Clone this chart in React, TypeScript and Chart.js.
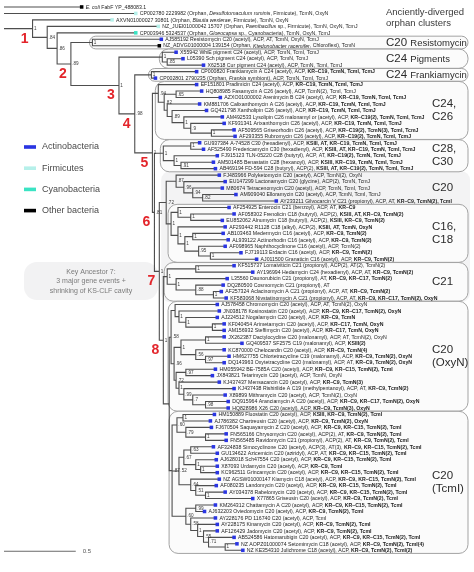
import React, { useEffect, useRef } from 'react';
import { Chart, registerables } from 'chart.js';

Chart.register(...registerables);

const WIDTH = 474;
const HEIGHT = 572;
const ROW_PX = 6.56;
const TOP_PX = 3;
const PX_PER_UNIT = 146;
const FONT = '"Liberation Sans", Arial, sans-serif';

// ---------------- data ----------------
const LEAF_LABELS: string[] = [
  '*E. coli* FabF YP_488083.1',
  'CP002780 2229982 (Orphan, *Desulfotomaculum ruminis*, Firmicute), TcmN, OxyN',
  'AXVN01000027 30801 (Orphan, *Blautia wexlerae*, Firmicute), TcmN, OxyN',
  'NZ_JUEI01000042 15707 (Orphan, *Paenibacillus* sp., Firmicute), TcmN, OxyN, TcmJ',
  'CP003946 5324537 (Orphan, *Gloeocapsa* sp., Cyanobacteria), TcmN, OxyN, TcmJ',
  'AJ585192 Resistomycin C20 (acetyl), ACP, AT, TcmN, OxyN, TcmJ',
  'NZ_ADVG01000004 139154 (Orphan, *Ktedonobacter racemifer*, Chloroflexi), TcmN',
  'X55942 WhiE pigment C24 (acetyl), ACP, TcmN, TcmI, TcmJ',
  'L05390 Sch pigment C24 (acetyl), ACP, TcmN, TcmJ',
  'X62518 Cur pigment C24 (acetyl), ACP, TcmN, TcmI, TcmJ',
  'CP000820 Frankiamycin A C24 (acetyl), ACP, KR–C19, TcmN, TcmI, TcmJ',
  'CP002801 2790235 (Orphan, *Frankia* symbiont), ACP, TcmN, TcmI, TcmJ',
  'EF151801 Pradimicin C24 (acetyl), ACP, KR–C19, TcmN, TcmI, TcmJ',
  'HQ808985 Fasamycin A C26 (acetyl), ACP, TcmN(2), TcmI, TcmJ',
  'AZXO01000002 Arenimycin B C24 (acetyl), ACP, KR–C19, TcmN, TcmI, TcmJ',
  'KM881706 Calixanthomycin A C26 (acetyl), ACP, KR–C19, TcmN, TcmI, TcmJ',
  'GQ421798 Xantholipin C26 (acetyl), ACP, KR–C19, TcmN, TcmI, TcmJ',
  'AM492533 Lysolipin C26 malonamyl or (acetyl), ACP, KR–C19(2), TcmN, TcmI, TcmJ',
  'KF931341 Arixanthomycin C26 (acetyl), ACP, KR–C19, TcmN, TcmI, TcmJ',
  'AF509565 Griseorhodin C26 (acetyl), ACP, KR–C19(2), TcmN(3), TcmI, TcmJ',
  'AF293355 Rubromycin C26 (acetyl), ACP, KR–C19(2), TcmN, TcmI, TcmJ',
  'GU937384 A-74528 C30 (hexadienyl), ACP, KSIII, AT, KR–C19, TcmN, TcmI, TcmJ',
  'AF525490 Fredericamycin C30 (hexadienyl), ACP, KSIII, AT, KR–C19, TcmN, TcmI, TcmJ',
  'FJ915123 TLN-05220 C28 (butyryl), ACP, AT, KR–C19(2), TcmN, TcmI, TcmJ',
  'AM501485 Benastatin C28 (hexanoyl), ACP, KSIII, KR–C19, TcmN, TcmI, TcmJ',
  'AB469194 FD-594 C28 (butyryl), ACP(2), KSIII, AT, KR–C19(2), TcmN, TcmI, TcmJ',
  'FJ483966 Polyketomycin C20 (acetyl), ACP, TcmN(2), OxyN',
  'EU147299 Lactonamycin C20 (glycine), ACP(2), TcmN, TcmJ',
  'M80674 Tetracenomycin C20 (acetyl), ACP, TcmN, TcmI, TcmJ',
  'AM909040 Elloramycin C20 (acetyl), ACP, TcmN, TcmI, TcmJ',
  'AY233211 Gilvocarcin V C21 (propionyl), ACP, AT, KR–C9, TcmN(2), TcmI',
  'AF254925 Enterocin C21 (benzoyl), ACP, AT, KR–C9',
  'AF058302 Frenolicin C18 (butyryl), ACP(2), KSIII, AT, KR–C9, TcmN(2)',
  'EU852062 Alnumycin C18 (butyryl), ACP(2), KSIII, KR–C9, TcmN(2)',
  'AF293442 R1128 C18 (alkyl), ACP(2), KSIII, AT, TcmN, OxyN',
  'AB103463 Medermycin C16 (acetyl), ACP, KR–C9, TcmN(2)',
  'AL939122 Actinorhodin C16 (acetyl), ACP, KR–C9, TcmN(2)',
  'AF098965 Naphthocyclinone C16 (acetyl), ACP, TcmN(2)',
  'FJ719113 Erdacin C16 (acetyl), ACP, KR–C9, TcmN(2)',
  'AJ011500 Granaticin C16 (acetyl), ACP, KR–C9, TcmN(2)',
  'KF515737 Lomaiviticin C21 (propionyl), ACP(2), AT(2), TcmN(2)',
  'AY196994 Hedamycin C24 (hexadienyl), ACP, AT, KR–C9, TcmN(2)',
  'L35560 Daunorubicin C21 (propionyl), AT, KR–C9, KR–C17, TcmN(2)',
  'DQ280500 Cosmomycin C21 (propionyl), AT',
  'AF257324 Aclacinomycin A C21 (propionyl), ACP, AT, KR–C9, TcmN(2)',
  'KF583068 Nivstatinomycin A C21 (propionyl), ACP, AT, KR–C9, KR–C17, TcmN(2), OxyN',
  'AJ578458 Chromomycin C20 (acetyl), ACP, AT, TcmN(2), OxyN',
  'JN038178 Kosinostatin C20 (acetyl), ACP, KR–C9, KR–C17, TcmN(2), OxyN',
  'AJ224512 Nogalamycin C20 (acetyl), ACP, KR–C9, TcmN',
  'KF040454 Arimetamycin C20 (acetyl), ACP, KR–C17, TcmN, OxyN',
  'AM156932 Steffimycin C20 (acetyl), ACP, KR–C17, TcmN, OxyN',
  'JX262387 Dactylocycline C20 (malonamyl), ACP, AT, TcmN(2), OxyN',
  'GQ409537 SF2575 C19 (malonamyl), ACP, KSIII(2)',
  'KC870000 Chelocardin C20 (acetyl), ACP, KR–C9, TcmN(4)',
  'HM627755 Chlortetracycline C19 (malonamyl), ACP, KR–C9, TcmN(2), OxyN',
  'DQ143963 Oxytetracycline C20 (malonamyl), ACP, AT, KR–C9, TcmN(2), OxyN',
  'HM055942 BE-7585A C20 (acetyl), ACP, KR–C9, KR–C15, TcmN(2), TcmI',
  'JX843821 Tetarimycin C20 (acetyl), ACP, TcmN, OxyN',
  'KJ437437 Mensacarcin C20 (acetyl), ACP, KR–C9, TcmN(3)',
  'KJ437438 Rishirilide A C19 (methylpentanoyl), ACP, AT, KR–C9, TcmN(2)',
  'X89899 Mithramycin C20 (acetyl), ACP, TcmN(2), OxyN',
  'DQ915964 Aranciamycin A C20 (acetyl), ACP, KR–C9, KR–C17, TcmN(2), OxyN',
  'HQ828986 X26 C20 (acetyl), ACP, KR–C9, TcmN(3), OxyN',
  'HM150889 Fluostatin C20 (acetyl), ACP, KSIII, KR–C9, TcmN(2), TcmI',
  'AJ786382 Chartreusin C20 (acetyl), ACP, KR–C9, TcmN(2), OxyN',
  'FJ670504 Saquayamycin Z C20 (acetyl), ACP, KR–C9, KR–C15, TcmN(2), TcmI',
  'FN565166 Chrysomycin C20 (acetyl), ACP(2), AT, KR–C9, TcmN(2), TcmI',
  'FN565485 Ravidomycin C21 (propionyl), ACP(2), AT, KR–C9, TcmN(2), TcmI',
  'AF324838 Simocyclinone C20 (acetyl), ACP(3), AT(3), KR–C9, KR–C15, TcmN(2), TcmI',
  'GU134622 Azicemicin C20 (aziridyl), ACP, AT, KR–C9, KR–C15, TcmN(2), TcmI',
  'AJ628018 Sch47554 C20 (acetyl), ACP, KR–C9, KR–C15, TcmN(2), TcmI',
  'X87093 Urdamycin C20 (acetyl), ACP, KR–C9, TcmI',
  'KC962511 Grincamycin C20 (acetyl), ACP, KR–C9, KR–C15, TcmN(2), TcmI',
  'NZ AGSW01000147 Kiamycin C18 (acetyl), ACP, KR–C9, KR–C15, TcmN(2), TcmI',
  'AF080235 Landomycin C20 (acetyl), ACP, KR–C9, KR–C15, TcmN(2), TcmI',
  'AY034378 Rabelomycin C20 (acetyl), ACP, KR–C9, KR–C15, TcmN(2), TcmI',
  'X77865 Griseusin C20 (acetyl), ACP, KR–C9, TcmN(2), TcmI',
  'KM264312 Chattamycin A C20 (acetyl), ACP, KR–C9, KR–C15, TcmN(2), TcmI',
  'AJ632203 Oviedomycin C20 (acetyl), ACP, KR–C9, TcmN(2), TcmI',
  'AY228176 PD 116740 C20 (acetyl), ACP, TcmI',
  'AY228175 Kinamycin C20 (acetyl), ACP, KR–C9, TcmN(2), TcmI',
  'AF126429 Jadomycin C20 (acetyl), ACP, KR–C9, TcmN(2), TcmI',
  'AB524586 Hatomarubigin C20 (acetyl), ACP, KR–C9, KR–C15, TcmN(2), TcmI',
  'NZ AOPZ01000074 Setomimycin C18 (acetyl), ACP, KR–C9, TcmN(2), TcmI(4)',
  'NZ KE354310 Julichrome C18 (acetyl), ACP, KR–C9, TcmN(2), TcmI(2)',
];

const LEAF_TAXA: string[] = [
  'O', 'F', 'F', 'F', 'C', 'A', 'O', 'A', 'A', 'A',
  'A', 'A', 'A', 'A', 'A', 'A', 'A', 'A', 'A', 'A',
  'A', 'A', 'A', 'A', 'A', 'A', 'A', 'A', 'A', 'A',
  'A', 'A', 'A', 'A', 'A', 'A', 'A', 'A', 'A', 'A',
  'A', 'A', 'A', 'A', 'A', 'A', 'A', 'A', 'A', 'A',
  'A', 'A', 'A', 'A', 'A', 'A', 'A', 'A', 'A', 'A',
  'A', 'A', 'A', 'A', 'A', 'A', 'A', 'A', 'A', 'A',
  'A', 'A', 'A', 'A', 'A', 'A', 'A', 'A', 'A', 'A',
  'A', 'A', 'A', 'A', 'A',
];

// distance from root (substitutions per site)
const LEAF_DEPTHS: number[] = [
  0.541, 0.918, 0.753, 1.075, 0.918, 1.096, 1.082, 1.199, 1.247, 1.390,
  1.342, 1.055, 1.342, 1.377, 1.507, 1.363, 1.411, 1.521, 1.534, 1.603,
  1.610, 1.363, 1.390, 1.486, 1.459, 1.473, 1.500, 1.541, 1.521, 1.616,
  1.897, 1.568, 1.603, 1.521, 1.541, 1.527, 1.562, 1.541, 1.651, 1.760,
  1.603, 1.733, 1.555, 1.527, 1.514, 1.548, 1.486, 1.500, 1.486, 1.534,
  1.534, 1.534, 1.658, 1.534, 1.568, 1.534, 1.473, 1.452, 1.500, 1.603,
  1.541, 1.562, 1.562, 1.466, 1.438, 1.445, 1.548, 1.548, 1.459, 1.486,
  1.479, 1.486, 1.486, 1.500, 1.479, 1.541, 1.733, 1.473, 1.397, 1.473,
  1.486, 1.486, 1.603, 1.623, 1.664,
];

// [id, depth, support, children (node ids or leaf indices)]
const INTERNAL_NODES: [string, number, string, (string | number)[]][] = [
  ['ROOT', -0.021, '', [0, 1, 'N1']],
  ['N1', 0.199, '1', [2, 'N84']],
  ['N84', 0.301, '.84', [3, 'N86']],
  ['N86', 0.370, '.86', [4, 'N89']],
  ['N89', 0.466, '.89', ['NRES', 'N3']],
  ['NRES', 0.616, '1', [5, 6]],
  ['N3', 0.801, '1', ['NPIG', 'N4']],
  ['NPIG', 1.103, '1', [7, 'NPIG2']],
  ['NPIG2', 1.137, '.85', [8, 9]],
  ['N4', 0.911, '.98', ['NFRANK', 'N5']],
  ['NFRANK', 1.027, '1', [10, 11]],
  ['N5', 1.034, '1', ['A', 'N6']],
  ['A', 1.075, '.94', [12, 'B']],
  ['B', 1.116, '.82', ['C', 'E']],
  ['C', 1.199, '.65', [13, 14]],
  ['E', 1.137, '', [15, 'F']],
  ['F', 1.171, '.89', [16, 'G']],
  ['G', 1.253, '1', [17, 'H']],
  ['H', 1.301, '.9', [18, 'I']],
  ['I', 1.445, '1', [19, 20]],
  ['N6', 1.048, '.81', ['J', 'N7']],
  ['J', 1.110, '1', ['K', 'L']],
  ['K', 1.301, '1', [21, 22]],
  ['L', 1.185, '1', [23, 'M']],
  ['M', 1.233, '.91', [24, 25]],
  ['N7', 1.082, '1', ['N72', 'N8']],
  ['N72', 1.130, '.72', ['P', 'X0']],
  ['P', 1.199, '.87', [26, 'Q']],
  ['Q', 1.253, '.96', [27, 'R']],
  ['R', 1.315, '.94', [28, 'S']],
  ['S', 1.384, '.82', [29, 30]],
  ['X0', 1.164, '1', ['X1', 'X2']],
  ['X1', 1.212, '1', [31, 'X3']],
  ['X3', 1.301, '1', [32, 33]],
  ['X2', 1.212, '1', [34, 'X4']],
  ['X4', 1.260, '1', ['X5', 'X6']],
  ['X5', 1.315, '1', [35, 36]],
  ['X6', 1.356, '.95', [37, 'X7']],
  ['X7', 1.438, '1', [38, 39]],
  ['N8', 1.110, '1', ['Y0', 'N9']],
  ['Y0', 1.137, '1', ['Y1', 'Y2']],
  ['Y1', 1.336, '1', [40, 41]],
  ['Y2', 1.199, '1', [42, 'Y3']],
  ['Y3', 1.336, '.88', [43, 'Y4']],
  ['Y4', 1.459, '1', [44, 45]],
  ['N9', 1.151, '', ['O0', 'T0']],
  ['O0', 1.164, '.58', ['O1', 'O2']],
  ['O1', 1.192, '', [46, 'SA']],
  ['SA', 1.219, '1', [47, 'SA2']],
  ['SA2', 1.267, '1', [48, 'SA3']],
  ['SA3', 1.452, '1', [49, 50]],
  ['O2', 1.185, '.96', ['O3', 'O4']],
  ['O3', 1.233, '1', ['O5', 'O6']],
  ['O5', 1.404, '1', [51, 52]],
  ['O6', 1.336, '.56', [53, 'O7']],
  ['O7', 1.404, '.97', [54, 55]],
  ['O4', 1.199, '.72', ['O8', 'O9']],
  ['O8', 1.267, '.97', [56, 57]],
  ['O9', 1.219, '1', [58, 'O10']],
  ['O10', 1.253, '.99', [59, 'O11']],
  ['O11', 1.315, '.7', [60, 'O12']],
  ['O12', 1.404, '.98', [61, 62]],
  ['T0', 1.171, '.87', ['TD', 'TH', 'TO']],
  ['TD', 1.205, '.60', ['TA', 'TB']],
  ['TA', 1.247, '1', [63, 64]],
  ['TB', 1.267, '.79', [65, 'TC']],
  ['TC', 1.404, '1', [66, 67]],
  ['TH', 1.219, '.52', ['TI', 'TN']],
  ['TI', 1.253, '.67', ['TK', 'TL']],
  ['TK', 1.301, '.63', [68, 69]],
  ['TL', 1.336, '1', [70, 'TM']],
  ['TM', 1.370, '1', [71, 72]],
  ['TN', 1.301, '.64', [73, 'TP']],
  ['TP', 1.336, '.51', [74, 'TQ']],
  ['TQ', 1.404, '1', [75, 76]],
  ['TO', 1.267, '.60', ['TR', 'TS']],
  ['TR', 1.336, '.99', [77, 78]],
  ['TS', 1.301, '.58', [79, 'TT']],
  ['TT', 1.349, '1', [80, 'TU']],
  ['TU', 1.390, '.55', [81, 'TV']],
  ['TV', 1.425, '.71', [82, 'TW']],
  ['TW', 1.541, '1', [83, 84]],
];

const KEY_ANCESTORS: [string, string][] = [
  ['N1', '1'], ['N89', '2'], ['N3', '3'], ['N4', '4'],
  ['N5', '5'], ['N6', '6'], ['N7', '7'], ['N8', '8'],
];

const TAXON_CODES = ['A', 'F', 'C', 'O'];
const TAXON_NAMES = ['Actinobacteria', 'Firmicutes', 'Cyanobacteria', 'Other bacteria'];
const TAXON_COLORS = ['#2a35e2', '#b6f0ea', '#3ae3c3', '#000000'];

// clade boxes: [clade node, first leaf, last leaf, big title, small title, two-line title]
const CLADE_BOXES: [string, number, number, string, string, string[]][] = [
  ['NRES', 5, 6, 'C20', 'Resistomycin', []],
  ['NPIG', 7, 9, 'C24', 'Pigments', []],
  ['NFRANK', 10, 11, 'C24', 'Frankiamycin', []],
  ['A', 12, 20, '', '', ['C24,', 'C26']],
  ['J', 21, 25, '', '', ['C28,', 'C30']],
  ['X0', 31, 39, '', '', ['C16,', 'C18']],
  ['Y0', 40, 45, '', '', ['C21']],
  ['O0', 46, 62, '', '', ['C20', '(OxyN)']],
  ['T0', 63, 84, '', '', ['C20', '(TcmI)']],
];
const OPEN_GROUP: [string, number, number, string[]] = ['P', 26, 30, ['C20']];
const SHADED_GROUP: [string, number, number] = ['N72', 26, 45];
const ORPHAN_NOTE = ['Anciently-diverged', 'orphan clusters'];
const KEY_NOTE = ['Key Ancestor 7:', '3 major gene events +', 'shrinking of KS-CLF cavity'];
const SCALE_BAR_LENGTH = 0.5;
const SCALE_BAR_ROW = 84.15;

// ---------------- tree building ----------------
type TNode = { id: string; depth: number; support: string; children: TNode[]; leaf: number; y: number };

function buildTree() {
  const map = new Map<string, TNode>();
  for (const [id, depth, support] of INTERNAL_NODES) {
    map.set(id, { id, depth, support, children: [], leaf: -1, y: 0 });
  }
  for (const [id, , , kids] of INTERNAL_NODES) {
    const n = map.get(id)!;
    for (const k of kids) {
      if (typeof k === 'number') {
        n.children.push({ id: 'L' + k, depth: LEAF_DEPTHS[k], support: '', children: [], leaf: k, y: k });
      } else {
        n.children.push(map.get(k)!);
      }
    }
  }
  const setY = (n: TNode): number => {
    if (n.leaf >= 0) return n.y;
    n.children.forEach(setY);
    n.y = (n.children[0].y + n.children[n.children.length - 1].y) / 2;
    return n.y;
  };
  const root = map.get('ROOT')!;
  setY(root);
  return { root, map };
}

const TREE = buildTree();

function treeSegments() {
  const pts: { x: number | null; y: number | null }[] = [];
  const walk = (n: TNode) => {
    if (n.leaf >= 0) return;
    const first = n.children[0];
    const last = n.children[n.children.length - 1];
    pts.push({ x: first.depth, y: first.y }, { x: n.depth, y: first.y }, { x: n.depth, y: last.y }, { x: last.depth, y: last.y }, { x: null, y: null });
    for (let i = 1; i < n.children.length - 1; i++) {
      const c = n.children[i];
      pts.push({ x: n.depth, y: c.y }, { x: c.depth, y: c.y }, { x: null, y: null });
    }
    n.children.forEach(walk);
  };
  walk(TREE.root);
  return pts;
}

// ---------------- drawing helpers ----------------
function roundRect(ctx: CanvasRenderingContext2D, x: number, y: number, w: number, h: number, r: number) {
  const rr = Math.min(r, h / 2, w / 2);
  ctx.beginPath();
  ctx.moveTo(x + rr, y);
  ctx.arcTo(x + w, y, x + w, y + h, rr);
  ctx.arcTo(x + w, y + h, x, y + h, rr);
  ctx.arcTo(x, y + h, x, y, rr);
  ctx.arcTo(x, y, x + w, y, rr);
  ctx.closePath();
}

function drawRich(ctx: CanvasRenderingContext2D, raw: string, x: number, y: number, size: number) {
  const parts = raw.split('*');
  const plain = parts.join('');
  const m = plain.search(/KR–C|KSIII/);
  const boldFrom = m < 0 ? Infinity : m;
  let offset = 0;
  let cx = x;
  parts.forEach((p, pi) => {
    const italic = pi % 2 === 1;
    const pieces: [string, boolean][] = [];
    if (offset + p.length <= boldFrom) pieces.push([p, false]);
    else if (offset >= boldFrom) pieces.push([p, true]);
    else {
      const k = boldFrom - offset;
      pieces.push([p.slice(0, k), false], [p.slice(k), true]);
    }
    for (const [t, b] of pieces) {
      if (!t) continue;
      ctx.font = `${italic ? 'italic ' : ''}${b ? 'bold ' : ''}${size}px ${FONT}`;
      ctx.fillText(t, cx, y);
      cx += ctx.measureText(t).width;
    }
    offset += p.length;
  });
}

const decorPlugin = {
  id: 'treeDecor',
  beforeDatasetsDraw(chart: any) {
    const ctx: CanvasRenderingContext2D = chart.ctx;
    const xs = chart.scales.x;
    const ys = chart.scales.y;
    const half = ROW_PX / 2 - 0.15;
    ctx.save();
    // shaded region around ancestor-7 descendants
    {
      const [nid, a, b] = SHADED_GROUP;
      const n = TREE.map.get(nid)!;
      const left = xs.getPixelForValue(n.depth) - 5;
      const top = ys.getPixelForValue(a) - half - 1;
      const bottom = ys.getPixelForValue(b) + half + 1;
      roundRect(ctx, left, top, 470 - left, bottom - top, 9);
      ctx.fillStyle = '#f3f3f4';
      ctx.fill();
    }
    // key ancestor note box
    roundRect(ctx, 24, 262, 134, 38, 13);
    ctx.fillStyle = '#f2f2f3';
    ctx.fill();
    // clade boxes
    for (const [nid, a, b] of CLADE_BOXES) {
      const n = TREE.map.get(nid)!;
      const left = xs.getPixelForValue(n.depth) - 3;
      const top = ys.getPixelForValue(a) - half;
      const bottom = ys.getPixelForValue(b) + half;
      roundRect(ctx, left, top, 468 - left, bottom - top, 9);
      ctx.fillStyle = '#fbfbfb';
      ctx.fill();
      ctx.lineWidth = 1;
      ctx.strokeStyle = '#a3a3a3';
      ctx.stroke();
    }
    ctx.restore();
  },
  afterDatasetsDraw(chart: any) {
    const ctx: CanvasRenderingContext2D = chart.ctx;
    const xs = chart.scales.x;
    const ys = chart.scales.y;
    ctx.save();
    ctx.textBaseline = 'middle';
    ctx.textAlign = 'left';
    // leaf labels
    ctx.fillStyle = '#1e1e1e';
    LEAF_LABELS.forEach((label, i) => {
      const x = xs.getPixelForValue(LEAF_DEPTHS[i]) + 4;
      const y = ys.getPixelForValue(i) + 0.3;
      drawRich(ctx, label, x, y, 5.2);
    });
    // support values
    ctx.fillStyle = '#3a3a3a';
    ctx.font = `4.6px ${FONT}`;
    TREE.map.forEach((n) => {
      if (!n.support || n.id === 'ROOT') return;
      ctx.fillText(n.support, xs.getPixelForValue(n.depth) + 1.4, ys.getPixelForValue(n.y));
    });
    // key ancestor numbers
    ctx.fillStyle = '#e3252b';
    ctx.font = `bold 14px ${FONT}`;
    ctx.textAlign = 'center';
    for (const [nid, txt] of KEY_ANCESTORS) {
      const n = TREE.map.get(nid)!;
      ctx.fillText(txt, xs.getPixelForValue(n.depth) - 8, ys.getPixelForValue(n.y) + 10);
    }
    // clade titles
    ctx.textAlign = 'left';
    ctx.fillStyle = '#2b2b2b';
    const titleAt = (lines: string[], a: number, b: number) => {
      const cy = (ys.getPixelForValue(a) + ys.getPixelForValue(b)) / 2;
      ctx.font = `11.5px ${FONT}`;
      lines.forEach((t, k) => {
        ctx.fillText(t, 432, cy + (k - (lines.length - 1) / 2) * 13);
      });
    };
    for (const [, a, b, big, small, lines] of CLADE_BOXES) {
      if (big) {
        const cy = (ys.getPixelForValue(a) + ys.getPixelForValue(b)) / 2;
        ctx.font = `11.5px ${FONT}`;
        ctx.fillText(big, 386, cy);
        const w = ctx.measureText(big + ' ').width;
        ctx.font = `9.5px ${FONT}`;
        ctx.fillText(small, 386 + w, cy + 0.5);
      } else {
        titleAt(lines, a, b);
      }
    }
    titleAt(OPEN_GROUP[3], OPEN_GROUP[1], OPEN_GROUP[2]);
    // orphan note
    ctx.font = `9.5px ${FONT}`;
    ctx.fillStyle = '#3a3a3a';
    ctx.fillText(ORPHAN_NOTE[0], 386, 12);
    ctx.fillText(ORPHAN_NOTE[1], 386, 23);
    // legend
    TAXON_NAMES.forEach((name, i) => {
      const y = 147 + i * 21.2;
      ctx.fillStyle = TAXON_COLORS[i];
      ctx.fillRect(24, y - 1.8, 12, 3.6);
      ctx.fillStyle = '#4a4a4a';
      ctx.font = `9px ${FONT}`;
      ctx.fillText(name, 42, y);
    });
    // key ancestor note
    ctx.textAlign = 'center';
    ctx.fillStyle = '#7a7a7a';
    ctx.font = `7px ${FONT}`;
    KEY_NOTE.forEach((t, k) => ctx.fillText(t, 91, 272 + k * 9.5));
    // scale label
    ctx.textAlign = 'left';
    ctx.fillStyle = '#555';
    ctx.font = `6px ${FONT}`;
    ctx.fillText(String(SCALE_BAR_LENGTH), xs.getPixelForValue(SCALE_BAR_LENGTH) + 7, ys.getPixelForValue(SCALE_BAR_ROW));
    ctx.restore();
  },
  beforeDraw(chart: any) {
    const ctx: CanvasRenderingContext2D = chart.ctx;
    ctx.save();
    ctx.fillStyle = '#ffffff';
    ctx.fillRect(0, 0, chart.width, chart.height);
    ctx.restore();
  },
};

export default function App() {
  const ref = useRef<HTMLCanvasElement | null>(null);
  useEffect(() => {
    const canvas = ref.current;
    if (!canvas) return;
    const colorOf = (code: string) => TAXON_COLORS[TAXON_CODES.indexOf(code)];
    const chart = new Chart(canvas, {
      type: 'scatter',
      data: {
        datasets: [
          {
            label: 'leaves',
            data: LEAF_DEPTHS.map((d, i) => ({ x: d, y: i })),
            pointStyle: 'rect',
            pointRadius: 2.5,
            pointBackgroundColor: LEAF_TAXA.map(colorOf),
            pointBorderColor: LEAF_TAXA.map(colorOf),
            pointBorderWidth: 0,
            showLine: false,
            order: 0,
          } as any,
          {
            label: 'tree',
            type: 'line',
            data: treeSegments() as any,
            borderColor: '#4e4e4e',
            borderWidth: 1.1,
            pointRadius: 0,
            pointHitRadius: 0,
            spanGaps: false,
            fill: false,
            tension: 0,
            order: 1,
          } as any,
          {
            label: 'scale',
            type: 'line',
            data: [{ x: 0, y: SCALE_BAR_ROW }, { x: SCALE_BAR_LENGTH, y: SCALE_BAR_ROW }],
            borderColor: '#6a6a6a',
            borderWidth: 1,
            pointRadius: 0,
            order: 2,
          } as any,
        ],
      },
      options: {
        animation: false,
        responsive: false,
        devicePixelRatio: 1,
        events: [],
        layout: { padding: 0 },
        plugins: { legend: { display: false }, tooltip: { enabled: false } },
        scales: {
          x: { type: 'linear', min: 0, max: WIDTH / PX_PER_UNIT, display: false },
          y: { type: 'linear', min: -TOP_PX / ROW_PX, max: (HEIGHT - TOP_PX) / ROW_PX, reverse: true, display: false },
        },
      },
      plugins: [decorPlugin as any],
    });
    return () => chart.destroy();
  }, []);
  return (
    <canvas
      ref={ref}
      width={WIDTH}
      height={HEIGHT}
      style={{ position: 'absolute', left: 0, top: 0, width: WIDTH, height: HEIGHT }}
    />
  );
}
